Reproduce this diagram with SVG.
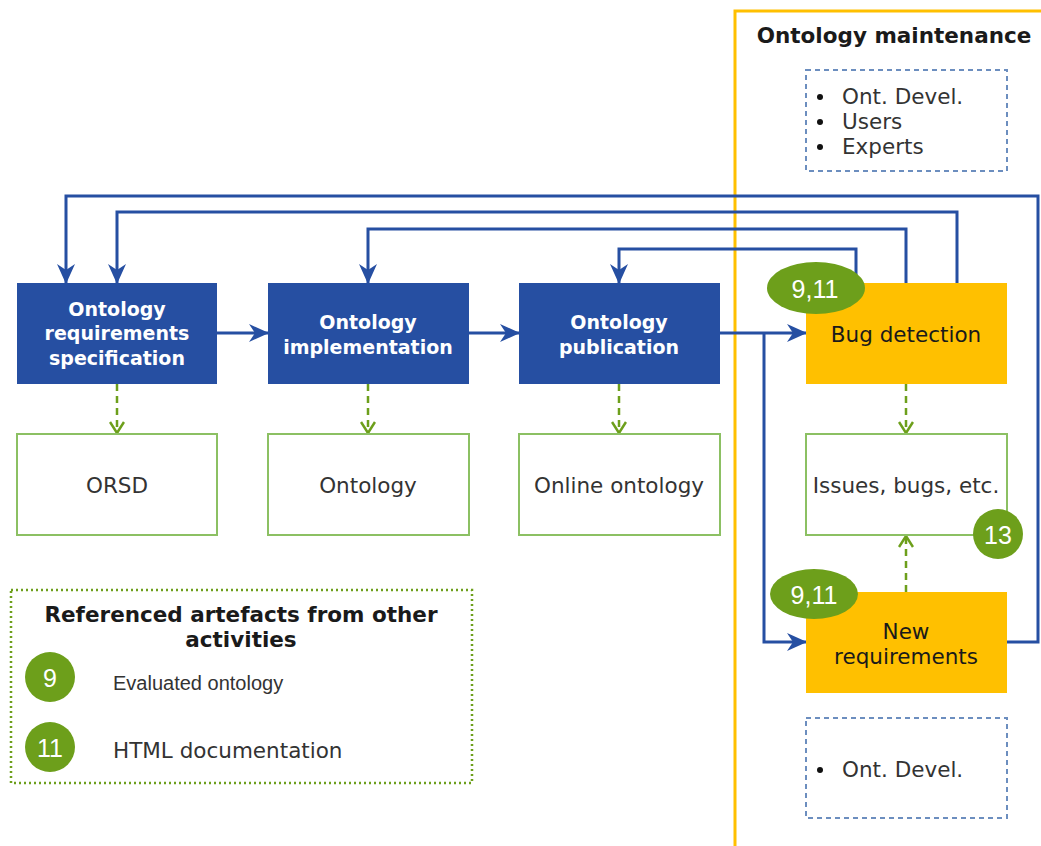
<svg xmlns="http://www.w3.org/2000/svg" width="1041" height="846" viewBox="0 0 1041 846">
  <style>
    .proc { fill: #264FA2; }
    .proc-text { font-family: "DejaVu Sans", Verdana, sans-serif; font-size: 19px; font-weight: bold; fill: #ffffff; text-anchor: middle; dominant-baseline: central; }
    .maint { fill: #FFC000; }
    .maint-text { font-family: "DejaVu Sans", Verdana, sans-serif; font-size: 21.5px; fill: #1a1a1a; text-anchor: middle; dominant-baseline: central; }
    .artefact { fill: #ffffff; stroke: #8CC063; stroke-width: 2; }
    .artefact-text { font-family: "DejaVu Sans", Verdana, sans-serif; font-size: 21.5px; fill: #333333; text-anchor: middle; dominant-baseline: central; }
    .roles { fill: #ffffff; stroke: #6C8EBF; stroke-width: 2; stroke-dasharray: 5 4; }
    .role-text { font-family: "DejaVu Sans", Verdana, sans-serif; font-size: 21.5px; fill: #333333; dominant-baseline: central; }
    .heading { font-family: "DejaVu Sans", Verdana, sans-serif; font-size: 21.5px; font-weight: bold; fill: #1a1a1a; text-anchor: middle; dominant-baseline: central; }
    .badge { fill: #6D9F1B; }
    .badge-text { font-family: "Liberation Sans", Arial, sans-serif; font-size: 25px; fill: #ffffff; text-anchor: middle; dominant-baseline: central; }
    .flow { fill: none; stroke: #264FA2; stroke-width: 3; }
    .output { fill: none; stroke: #6D9F1B; stroke-width: 2.5; stroke-dasharray: 7 5; }
  </style>
  <defs>
    <marker id="arrowBlue" viewBox="0 0 20 18" refX="19" refY="9" markerWidth="20" markerHeight="18" markerUnits="userSpaceOnUse" orient="auto">
      <path d="M0,0 L20,9 L0,18 L6,9 Z" fill="#264FA2"/>
    </marker>
    <marker id="arrowGreen" viewBox="0 0 14 16" refX="12" refY="8" markerWidth="14" markerHeight="16" markerUnits="userSpaceOnUse" orient="auto">
      <path d="M1,1 L12,8 L1,15" fill="none" stroke="#6D9F1B" stroke-width="2.5"/>
    </marker>
  </defs>

  <rect width="1041" height="846" fill="#ffffff"/>

  <!-- maintenance swimlane frame -->
  <g id="maintenance-lane">
    <rect x="735" y="11" width="400" height="900" fill="none" stroke="#FFC000" stroke-width="3"/>
    <text class="heading" x="894" y="35">Ontology maintenance</text>
  </g>

  <!-- connectors -->
  <g id="connectors">
    <!-- forward flow -->
    <path class="flow" d="M217,333 L268,333" marker-end="url(#arrowBlue)"/>
    <path class="flow" d="M469,333 L519,333" marker-end="url(#arrowBlue)"/>
    <path class="flow" d="M720,333 L806,333" marker-end="url(#arrowBlue)"/>
    <path class="flow" d="M764,333 L764,642 L806,642" marker-end="url(#arrowBlue)"/>
    <!-- feedback loops -->
    <path class="flow" d="M1006,642 L1038,642 L1038,196 L66,196 L66,283" marker-end="url(#arrowBlue)"/>
    <path class="flow" d="M957,283 L957,212 L117,212 L117,283" marker-end="url(#arrowBlue)"/>
    <path class="flow" d="M906,283 L906,229 L368,229 L368,283" marker-end="url(#arrowBlue)"/>
    <path class="flow" d="M856,283 L856,249 L619,249 L619,283" marker-end="url(#arrowBlue)"/>
    <!-- outputs -->
    <path class="output" d="M117,384 L117,433" marker-end="url(#arrowGreen)"/>
    <path class="output" d="M368,384 L368,433" marker-end="url(#arrowGreen)"/>
    <path class="output" d="M619,384 L619,433" marker-end="url(#arrowGreen)"/>
    <path class="output" d="M906,384 L906,433" marker-end="url(#arrowGreen)"/>
    <path class="output" d="M906,592 L906,536" marker-end="url(#arrowGreen)"/>
  </g>

  <!-- roles -->
  <g id="roles-top">
    <rect class="roles" x="806" y="70" width="201" height="101"/>
    <circle cx="820" cy="97" r="3" fill="#111"/>
    <circle cx="820" cy="122" r="3" fill="#111"/>
    <circle cx="820" cy="147" r="3" fill="#111"/>
    <text class="role-text" x="842" y="96">Ont. Devel.</text>
    <text class="role-text" x="842" y="121">Users</text>
    <text class="role-text" x="842" y="146">Experts</text>
  </g>
  <g id="roles-bottom">
    <rect class="roles" x="806" y="718" width="201" height="100"/>
    <circle cx="820" cy="770" r="3" fill="#111"/>
    <text class="role-text" x="842" y="769">Ont. Devel.</text>
  </g>

  <!-- activities -->
  <g id="requirements-specification">
    <rect class="proc" x="17" y="283" width="200" height="101"/>
    <text class="proc-text" x="117" y="309">Ontology</text>
    <text class="proc-text" x="117" y="333">requirements</text>
    <text class="proc-text" x="117" y="358">specification</text>
  </g>
  <g id="implementation">
    <rect class="proc" x="268" y="283" width="201" height="101"/>
    <text class="proc-text" x="368" y="322">Ontology</text>
    <text class="proc-text" x="368" y="347">implementation</text>
  </g>
  <g id="publication">
    <rect class="proc" x="519" y="283" width="201" height="101"/>
    <text class="proc-text" x="619" y="322">Ontology</text>
    <text class="proc-text" x="619" y="347">publication</text>
  </g>
  <g id="bug-detection">
    <rect class="maint" x="806" y="283" width="201" height="101"/>
    <text class="maint-text" x="906" y="334">Bug detection</text>
    <ellipse class="badge" cx="816" cy="288" rx="49" ry="26"/>
    <text class="badge-text" x="815" y="289">9,11</text>
  </g>
  <g id="new-requirements">
    <rect class="maint" x="806" y="592" width="201" height="101"/>
    <text class="maint-text" x="906" y="631">New</text>
    <text class="maint-text" x="906" y="656">requirements</text>
    <ellipse class="badge" cx="814" cy="594" rx="44" ry="25"/>
    <text class="badge-text" x="814" y="595">9,11</text>
  </g>

  <!-- artefacts -->
  <g id="orsd">
    <rect class="artefact" x="17" y="434" width="200" height="101"/>
    <text class="artefact-text" x="117" y="485">ORSD</text>
  </g>
  <g id="ontology">
    <rect class="artefact" x="268" y="434" width="201" height="101"/>
    <text class="artefact-text" x="368" y="485">Ontology</text>
  </g>
  <g id="online-ontology">
    <rect class="artefact" x="519" y="434" width="201" height="101"/>
    <text class="artefact-text" x="619" y="485">Online ontology</text>
  </g>
  <g id="issues">
    <rect class="artefact" x="806" y="434" width="201" height="101"/>
    <text class="artefact-text" x="906" y="485">Issues, bugs, etc.</text>
    <circle class="badge" cx="998" cy="534" r="25"/>
    <text class="badge-text" x="998" y="535">13</text>
  </g>

  <!-- legend -->
  <g id="legend">
    <rect x="11" y="590" width="461" height="193" fill="none" stroke="#6D9F1B" stroke-width="2.5" stroke-dasharray="2 3"/>
    <text class="heading" x="241" y="614">Referenced artefacts from other</text>
    <text class="heading" x="241" y="639">activities</text>
    <circle class="badge" cx="50" cy="677" r="25"/>
    <text class="badge-text" x="50" y="678">9</text>
    <text x="113" y="683" font-family="Liberation Sans, Arial, sans-serif" font-size="20" fill="#333333" dominant-baseline="central">Evaluated ontology</text>
    <circle class="badge" cx="50" cy="747" r="25"/>
    <text class="badge-text" x="50" y="748">11</text>
    <text x="113" y="750" font-family="DejaVu Sans, Verdana, sans-serif" font-size="21.5" fill="#333333" dominant-baseline="central">HTML documentation</text>
  </g>
</svg>
